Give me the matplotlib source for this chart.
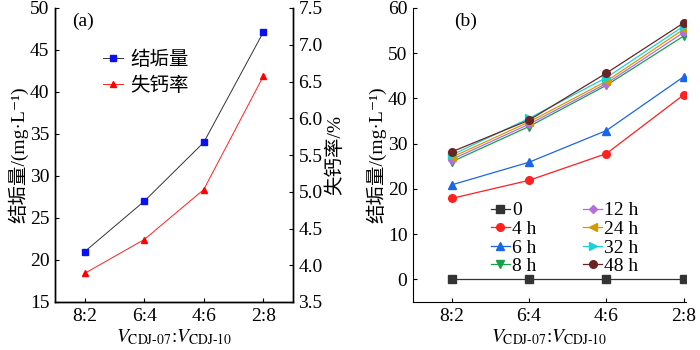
import matplotlib
matplotlib.use('Agg')
import matplotlib.pyplot as plt

plt.rcParams['font.family'] = ['Liberation Serif', 'Noto Sans CJK SC', 'DejaVu Serif']
plt.rcParams['mathtext.fontset'] = 'stix'
plt.rcParams['font.size'] = 14

# ratio categories
ratios = ['8:2', '6:4', '4:6', '2:8']

# panel (a)
scale_amount = [21.0, 27.0, 34.0, 47.1]
ca_loss = [3.89, 4.35, 5.03, 6.57]

# panel (b): scale amount over time
time_labels = ['0', '4 h', '6 h', '8 h', '12 h', '24 h', '32 h', '48 h']
scale_0h = [0, 0, 0, 0]
scale_4h = [17.9, 21.9, 27.8, 40.8]
scale_6h = [20.9, 25.9, 32.9, 44.8]
scale_8h = [26.0, 33.8, 42.9, 53.8]
scale_12h = [26.5, 34.3, 43.3, 54.6]
scale_24h = [27.0, 34.8, 43.8, 55.3]
scale_32h = [27.5, 35.6, 44.6, 56.0]
scale_48h = [28.2, 35.2, 45.6, 56.7]
series_b = [scale_0h, scale_4h, scale_6h, scale_8h,
            scale_12h, scale_24h, scale_32h, scale_48h]

colors_b = ['#333333', '#ff2020', '#1a66e8', '#17a04a',
            '#b36ee0', '#d49a00', '#1cd2d2', '#6b2424']
markers_b = ['s', 'o', '^', 'v', 'D', '<', '>', 'o']

xlabel = r'$V_{\mathrm{CDJ}\text{-}\mathrm{07}}$:$V_{\mathrm{CDJ}\text{-}\mathrm{10}}$'

fig = plt.figure(figsize=(7, 3.5), dpi=100)
ax1 = fig.add_axes([55 / 700, 48 / 350, 238 / 700, 294 / 350])
ax2 = fig.add_axes([413 / 700, 48 / 350, 273 / 700, 294 / 350])

x = list(range(len(ratios)))

# ---- panel (a)
l1, = ax1.plot(x, scale_amount, color='#333333', lw=0.7, marker='s', ms=4.5,
               mfc='#0a10f0', mec='#0a10f0', label='结垢量')
ax1.set_xlim(-0.5, 3.5)
ax1.set_ylim(15, 50)
ax1.set_yticks(range(15, 51, 5))
ax1.set_ylabel('结垢量/(mg·L⁻¹)', labelpad=1)
ax1.set_xlabel(xlabel, labelpad=2)
ax1.set_xticks(x)
ax1.set_xticklabels(ratios)
ax1.spines['top'].set_visible(False)
ax1.tick_params(direction='in', length=3, width=0.8, pad=4)

ax1r = ax1.twinx()
l2, = ax1r.plot(x, ca_loss, color='#ff2020', lw=0.7, marker='^', ms=5,
                mfc='#ff0000', mec='#ff0000', label='失钙率')
ax1r.set_ylim(3.5, 7.5)
ax1r.set_yticks([3.5 + 0.5 * i for i in range(9)])
ax1r.set_ylabel('失钙率/%', labelpad=2)
ax1r.spines['top'].set_visible(False)
ax1r.tick_params(direction='in', length=3, width=0.8, pad=4)
for a in (ax1, ax1r):
    for s in a.spines.values():
        s.set_linewidth(1.0)

ax1.legend(handles=[l1, l2], loc='upper left', bbox_to_anchor=(0.13, 0.915),
           frameon=False, handlelength=1.0, handletextpad=0.4, fontsize=14,
           labelspacing=0.4)
ax1.text(0.07, 0.985, '(a)', transform=ax1.transAxes, ha='left', va='top', fontsize=14)

# ---- panel (b)
for vals, lab, c, m in zip(series_b, time_labels, colors_b, markers_b):
    ms = 5.5 if m != 'D' else 4.5
    ax2.plot(x, vals, color=c, lw=0.9, marker=m, ms=ms, mfc=c, mec=c, label=lab)
ax2.set_xlim(-0.5, 3.03)
ax2.set_ylim(-5, 60)
ax2.set_yticks(range(0, 61, 10))
ax2.set_xticks(x)
ax2.set_xticklabels(ratios)
ax2.set_ylabel('结垢量/(mg·L⁻¹)', labelpad=1)
ax2.set_xlabel(xlabel, labelpad=2)
ax2.spines['top'].set_visible(False)
ax2.spines['right'].set_visible(False)
ax2.tick_params(direction='in', length=3, width=0.8, pad=4)
ax2.legend(loc='lower left', bbox_to_anchor=(0.22, 0.032), ncol=2, frameon=False,
           handlelength=1.0, handletextpad=0.1, columnspacing=2.4,
           labelspacing=0.05, fontsize=14)
ax2.text(0.15, 0.985, '(b)', transform=ax2.transAxes, ha='left', va='top', fontsize=14)

fig.savefig('out.png', dpi=100)
